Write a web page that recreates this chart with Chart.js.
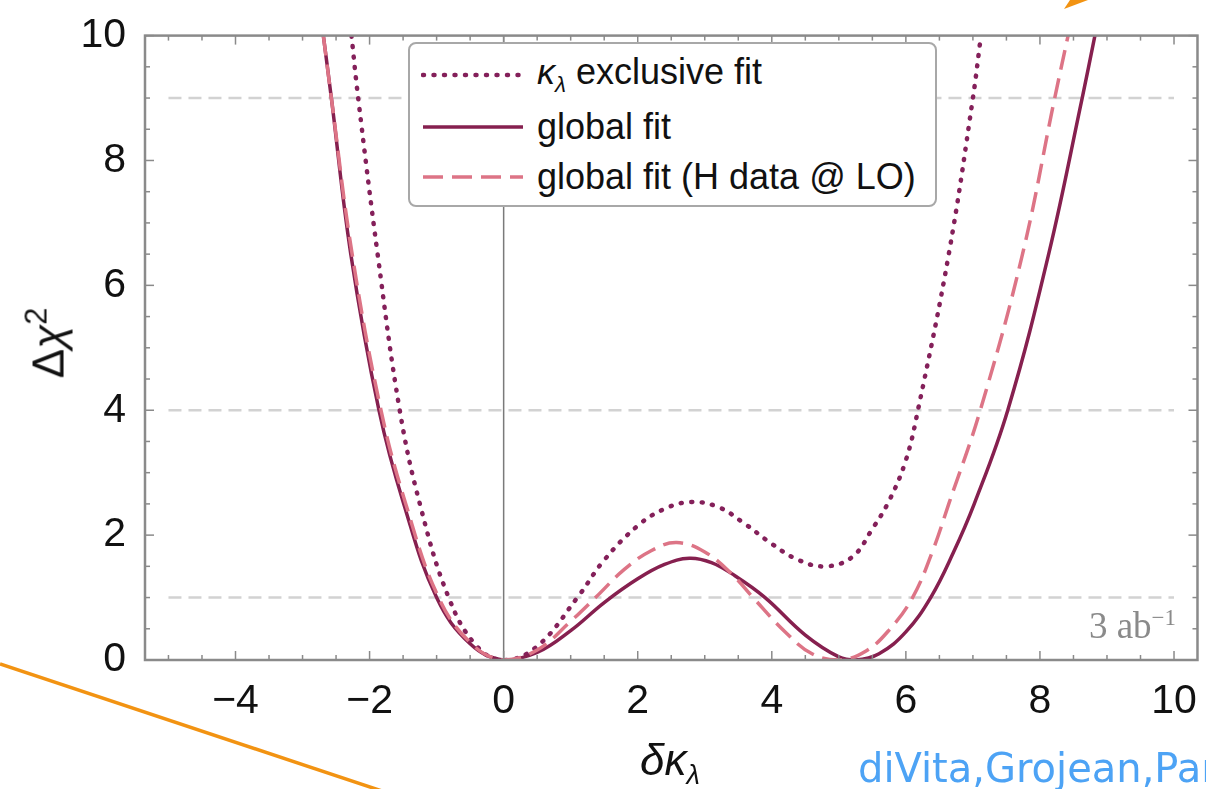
<!DOCTYPE html>
<html>
<head>
<meta charset="utf-8">
<script src="https://cdn.jsdelivr.net/npm/chart.js@4.4.0/dist/chart.umd.min.js"></script>
<style>
  html, body { margin: 0; padding: 0; background: #fff; overflow: hidden; }
  #wrap { position: relative; width: 1206px; height: 789px; font-family: "Liberation Sans", Arial, sans-serif; color: #111; }
  #chart { position: absolute; left: 0; top: 0; }
  .legend { position: absolute; left: 408px; top: 42px; width: 529px; height: 165px; box-sizing: border-box;
            border: 2px solid #a8a8a8; border-radius: 8px; background: #fff; }
  .legend .row { position: absolute; left: 0; height: 44px; display: flex; align-items: center; font-size: 36px; white-space: nowrap; }
  .legend svg { margin-left: 11px; margin-right: 12px; }
  .ytitle { position: absolute; left: 46px; top: 343px; transform: translate(-50%, -50%) rotate(-90deg); font-size: 44px; white-space: nowrap; }
  .ytitle sup { font-size: 70%; vertical-align: 0.55em; }
  .xtitle { position: absolute; left: 670px; top: 763px; transform: translate(-50%, -50%); font-size: 44px; white-space: nowrap; }
  .lumi { position: absolute; right: 30px; top: 604px; font-family: "Liberation Serif", "DejaVu Serif", serif; font-size: 37px; color: #8a8a8a; }
  .cite { position: absolute; left: 858px; top: 745px; font-family: "DejaVu Sans", sans-serif; font-size: 40px; color: #4da3f5; white-space: nowrap; }
  sub, sup { font-size: 62%; }
  #deco { position: absolute; left: 0; top: 0; pointer-events: none; }
</style>
</head>
<body>
<div id="wrap">
  <canvas id="chart" width="1206" height="789"></canvas>
  <svg id="deco" width="1206" height="789">
    <line x1="0" y1="664" x2="385" y2="792" stroke="#f29312" stroke-width="3.5"></line>
    <polygon points="1064,9 1088,0 1070,0" fill="#f29312"></polygon>
  </svg>
  <div class="legend" id="legend"></div>
  <div class="ytitle">Δ<i>χ</i><sup>2</sup></div>
  <div class="xtitle"><i>δκ</i><sub><i>λ</i></sub></div>
  <div class="lumi">3 ab<sup>−1</sup></div>
  <div class="cite">diVita,Grojean,Panico</div>
</div>
<script>
// tick labels
const xTicks = [-4, -2, 0, 2, 4, 6, 8, 10];
const yTicks = [0, 2, 4, 6, 8, 10];

// kappa_lambda exclusive fit (dotted)
const exclX = [-2.27, -2.17, -1.88, -1.55, -1.25, -0.82, -0.4, 0, 0.5, 1.1, 1.5, 2.0, 2.4, 2.79, 3.2, 3.6, 4.0, 4.4, 4.8, 5.2, 5.5, 5.75, 6.0, 6.18, 6.64, 7.0, 7.12];
const exclY = [10, 9, 6.5, 4, 2.5, 1, 0.22, 0, 0.22, 1, 1.6, 2.15, 2.42, 2.53, 2.45, 2.18, 1.86, 1.6, 1.5, 1.65, 2.1, 2.55, 3.2, 4, 6.5, 9, 10];

// global fit (solid)
const globX = [-2.69, -2.57, -2.28, -1.86, -1.49, -1.0, -0.5, 0, 0.5, 1.0, 1.5, 2.0, 2.4, 2.77, 3.1, 3.45, 3.9, 4.5, 5.0, 5.25, 5.6, 6.0, 6.37, 6.7, 7.02, 7.52, 8.13, 8.63, 8.82];
const globY = [10, 9, 6.5, 4, 2.5, 1, 0.26, 0, 0.12, 0.47, 0.92, 1.3, 1.53, 1.63, 1.56, 1.35, 1, 0.4, 0.05, 0, 0.1, 0.45, 1, 1.7, 2.5, 4, 6.5, 9, 10];

// global fit, H data @ LO (dashed)
const loX = [-2.69, -2.57, -2.26, -1.83, -1.46, -0.97, -0.48, 0, 0.5, 1.0, 1.37, 1.8, 2.2, 2.58, 3.0, 3.4, 3.72, 4.2, 4.6, 5.0, 5.4, 5.75, 6.1, 6.4, 6.64, 7.11, 7.74, 8.22, 8.42];
const loY = [10, 9, 6.5, 4, 2.5, 1, 0.26, 0, 0.16, 0.62, 1, 1.45, 1.75, 1.88, 1.73, 1.38, 1, 0.45, 0.1, 0, 0.14, 0.48, 1, 1.75, 2.5, 4, 6.5, 9, 10];

// reference levels (dashed grey) and their x span
const refLevels = [1, 4, 9];
const refSpan = [-5, 10];

const pts = (xs, ys) => xs.map((x, i) => ({ x, y: ys[i] }));

const series = [
  { label: '<i>κ</i><sub><i>λ</i></sub> exclusive fit', data: pts(exclX, exclY), color: '#84205a', width: 4.5, dash: [1, 9.5], cap: 'round', order: 2 },
  { label: 'global fit', data: pts(globX, globY), color: '#86204f', width: 3.5, dash: [], cap: 'butt', order: 1 },
  { label: 'global fit (H data @ LO)', data: pts(loX, loY), color: '#dd7486', width: 3.5, dash: [20, 9], cap: 'butt', order: 0 },
];

const datasets = series.map((s) => ({
  label: s.label,
  data: s.data,
  borderColor: s.color,
  borderWidth: s.width,
  borderDash: s.dash,
  borderCapStyle: s.cap,
  tension: 0.4,
  pointRadius: 0,
  fill: false,
  order: s.order,
}));

refLevels.forEach((lv) => {
  datasets.push({
    data: [{ x: refSpan[0], y: lv }, { x: refSpan[1], y: lv }],
    borderColor: '#d2d2d2', borderWidth: 2.5, borderDash: [13, 7], pointRadius: 0, order: 5,
  });
});
datasets.push({
  data: [{ x: 0, y: 0 }, { x: 0, y: 10 }],
  borderColor: '#7a7a7a', borderWidth: 1.5, pointRadius: 0, order: 4,
});

// frame with inward ticks on all four sides
const frameTicks = {
  id: 'frameTicks',
  afterDatasetsDraw(chart) {
    const { ctx, chartArea: a, scales: { x, y } } = chart;
    const seg = (x1, y1, x2, y2) => { ctx.beginPath(); ctx.moveTo(x1, y1); ctx.lineTo(x2, y2); ctx.stroke(); };
    ctx.save();
    ctx.strokeStyle = '#8a8a8a';
    ctx.lineWidth = 1.5;
    for (let v = -5; v <= 10; v += 0.5) {
      const px = x.getPixelForValue(v);
      const len = v % 2 === 0 ? 9 : 5;
      seg(px, a.bottom, px, a.bottom - len);
      seg(px, a.top, px, a.top + len);
    }
    for (let v = 0; v <= 10; v += 0.5) {
      const py = y.getPixelForValue(v);
      const len = v % 2 === 0 ? 9 : 5;
      seg(a.left, py, a.left + len, py);
      seg(a.right, py, a.right - len, py);
    }
    ctx.lineWidth = 2.5;
    ctx.strokeRect(a.left, a.top, a.right - a.left, a.bottom - a.top);
    ctx.restore();
  },
};

const tickFont = { family: '"Liberation Sans", Arial, sans-serif', size: 41 };

new Chart(document.getElementById('chart'), {
  type: 'line',
  data: { datasets },
  options: {
    responsive: false,
    animation: false,
    devicePixelRatio: 1,
    layout: { padding: { top: 30, right: 8, left: 0, bottom: 0 } },
    plugins: { legend: { display: false }, tooltip: { enabled: false } },
    scales: {
      x: {
        type: 'linear', min: -5.35, max: 10.35,
        afterBuildTicks: (s) => { s.ticks = xTicks.map((v) => ({ value: v })); },
        afterFit: (s) => { s.height = 129; },
        ticks: { font: tickFont, color: '#111', padding: 9, autoSkip: false, maxRotation: 0,
                 callback: (v) => (v < 0 ? '−' + Math.abs(v) : String(v)) },
        grid: { display: false },
        border: { display: false },
      },
      y: {
        type: 'linear', min: 0, max: 10,
        afterBuildTicks: (s) => { s.ticks = yTicks.map((v) => ({ value: v })); },
        afterFit: (s) => { s.width = 145; },
        ticks: { font: tickFont, color: '#111', padding: 11 },
        grid: { display: false },
        border: { display: false },
      },
    },
  },
  plugins: [frameTicks],
});

// legend box built from the series styles
const legend = document.getElementById('legend');
const rowCenters = [31, 83, 133];
series.forEach((s, i) => {
  const row = document.createElement('div');
  row.className = 'row';
  row.style.top = (rowCenters[i] - 22) + 'px';
  const dash = s.dash.length ? s.dash.join(' ') : 'none';
  row.innerHTML =
    `<svg width="104" height="10"><line x1="2" y1="5" x2="102" y2="5" stroke="${s.color}" stroke-width="${s.width}"
       stroke-dasharray="${dash}" stroke-linecap="${s.cap}"></line></svg><span>${s.label}</span>`;
  legend.appendChild(row);
});
</script>
</body>
</html>
